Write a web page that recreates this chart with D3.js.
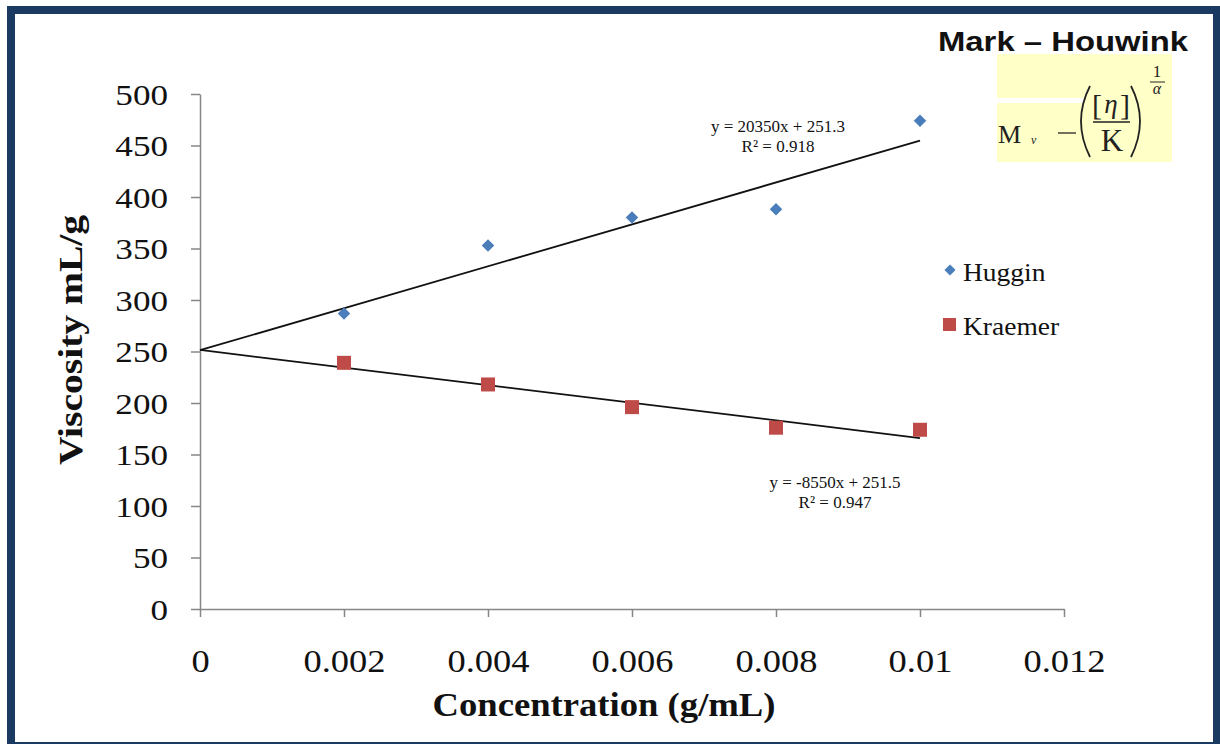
<!DOCTYPE html>
<html>
<head>
<meta charset="utf-8">
<script src="https://cdn.jsdelivr.net/npm/d3@7"></script>
<style>
  html, body { margin: 0; padding: 0; background: #fff; }
  svg { display: block; }
</style>
</head>
<body>
<svg id="chart" width="1220" height="744"></svg>
<script>
// concentrations (g/mL)
const conc = [0.002, 0.004, 0.006, 0.008, 0.010];
const huggin = [287, 353, 380, 388, 474];
const kraemer = [239, 218, 196, 176, 174];

// trendlines as printed on the chart
const fits = [
  { name: "Huggin", slope: 20350, intercept: 251.3, eq: "y = 20350x + 251.3", r2: "R² = 0.918" },
  { name: "Kraemer", slope: -8550, intercept: 251.5, eq: "y = -8550x + 251.5", r2: "R² = 0.947" },
];
const fitRange = [0, 0.01];

const xTicks = [0, 0.002, 0.004, 0.006, 0.008, 0.01, 0.012];
const yTicks = [0, 50, 100, 150, 200, 250, 300, 350, 400, 450, 500];

const serif = "'Liberation Serif', 'Times New Roman', serif";
const sans = "'Liberation Sans', Arial, sans-serif";
const axisGray = "#868686";

// the original picture is a little wider than tall, stretch text to match
function stretch(sel, k) {
  sel.each(function () {
    const w = this.getComputedTextLength();
    d3.select(this).attr("textLength", w * k).attr("lengthAdjust", "spacingAndGlyphs");
  });
}

const svg = d3.select("#chart");

const x = d3.scaleLinear().domain([0, 0.012]).range([200, 1064]);
const y = d3.scaleLinear().domain([0, 500]).range([609, 94]);

// x axis
const xAxis = svg.append("g").attr("transform", `translate(0,${y(0)})`)
  .call(d3.axisBottom(x).tickValues(xTicks).tickSize(8).tickSizeOuter(0)
    .tickFormat((d) => d === 0 ? "0" : String(+d.toFixed(3))));
xAxis.select(".domain").attr("stroke", axisGray).attr("stroke-width", 1.5);
xAxis.selectAll(".tick line").attr("stroke", axisGray).attr("stroke-width", 1.5);
xAxis.selectAll(".tick text").attr("font-family", serif).attr("font-size", 32)
  .attr("fill", "#111").attr("dy", 0).attr("y", 63).call(stretch, 1.14);

// y axis
const yAxis = svg.append("g").attr("transform", `translate(${x(0)},0)`)
  .call(d3.axisLeft(y).tickValues(yTicks).tickSize(9).tickSizeOuter(0));
yAxis.select(".domain").attr("stroke", axisGray).attr("stroke-width", 1.5);
yAxis.selectAll(".tick line").attr("stroke", axisGray).attr("stroke-width", 1.5);
yAxis.selectAll(".tick text").attr("font-family", serif).attr("font-size", 30)
  .attr("fill", "#111").attr("x", -32).attr("dy", "0.34em").call(stretch, 1.17);

// axis titles
svg.append("text").attr("x", 604).attr("y", 716).attr("text-anchor", "middle")
  .attr("font-family", serif).attr("font-weight", "bold").attr("font-size", 34)
  .attr("fill", "#111").attr("textLength", 343).attr("lengthAdjust", "spacingAndGlyphs")
  .text("Concentration (g/mL)");
svg.append("text").attr("transform", "translate(82,340) rotate(-90)").attr("text-anchor", "middle")
  .attr("font-family", serif).attr("font-weight", "bold").attr("font-size", 33)
  .attr("fill", "#111").attr("textLength", 250).attr("lengthAdjust", "spacingAndGlyphs")
  .text("Viscosity mL/g");

// trendlines
const line = d3.line().x((d) => x(d[0])).y((d) => y(d[1]));
svg.selectAll("path.fit").data(fits).join("path").attr("class", "fit")
  .attr("fill", "none").attr("stroke", "#111").attr("stroke-width", 1.8)
  .attr("d", (f) => line(fitRange.map((c) => [c, f.slope * c + f.intercept])));

// points
svg.selectAll("path.huggin").data(conc).join("path").attr("class", "huggin")
  .attr("transform", (d, i) => `translate(${x(d)},${y(huggin[i])})`)
  .attr("d", d3.symbol(d3.symbolDiamond2, 100)).attr("fill", "#4a7ebb");
svg.selectAll("rect.kraemer").data(conc).join("rect").attr("class", "kraemer")
  .attr("x", (d) => x(d) - 7).attr("y", (d, i) => y(kraemer[i]) - 7)
  .attr("width", 14).attr("height", 14).attr("fill", "#be4b48");

// equation labels
const eqPos = [[778, 132], [835, 488]];
fits.forEach((f, i) => {
  const g = svg.append("g").attr("font-family", serif).attr("font-size", 17).attr("fill", "#111")
    .attr("text-anchor", "middle");
  g.append("text").attr("x", eqPos[i][0]).attr("y", eqPos[i][1]).text(f.eq).call(stretch, 1.0);
  g.append("text").attr("x", eqPos[i][0]).attr("y", eqPos[i][1] + 20).text(f.r2);
});

// legend
const legend = svg.append("g").attr("font-family", serif).attr("font-size", 25).attr("fill", "#111");
legend.append("path").attr("transform", "translate(950,270)")
  .attr("d", d3.symbol(d3.symbolDiamond2, 80)).attr("fill", "#4a7ebb");
legend.append("text").attr("x", 963).attr("y", 281).text("Huggin").call(stretch, 1.1);
legend.append("rect").attr("x", 943).attr("y", 318).attr("width", 13).attr("height", 13).attr("fill", "#be4b48");
legend.append("text").attr("x", 963).attr("y", 335).text("Kraemer").call(stretch, 1.1);

// Mark–Houwink equation box
const mh = svg.append("g");
mh.append("text").attr("x", 938).attr("y", 51).attr("font-family", sans).attr("font-weight", "bold")
  .attr("font-size", 27).attr("textLength", 250).attr("lengthAdjust", "spacingAndGlyphs")
  .attr("fill", "#111").text("Mark – Houwink");
mh.append("rect").attr("x", 997).attr("y", 54).attr("width", 175).attr("height", 108).attr("fill", "#ffffc8");
mh.append("rect").attr("x", 997).attr("y", 98).attr("width", 86).attr("height", 5).attr("fill", "#fff");
const ink = "#222";
const ft = mh.append("g").attr("font-family", serif).attr("fill", ink);
ft.append("text").attr("x", 998).attr("y", 143).attr("font-size", 26).text("M");
ft.append("text").attr("x", 1031).attr("y", 144).attr("font-size", 12).attr("font-style", "italic").text("v");
ft.append("line").attr("x1", 1058).attr("x2", 1076).attr("y1", 133).attr("y2", 133).attr("stroke", ink).attr("stroke-width", 1.3);
// parentheses
ft.append("path").attr("d", "M1090,86 Q1072,121 1090,157").attr("fill", "none").attr("stroke", ink).attr("stroke-width", 1.8);
ft.append("path").attr("d", "M1131,86 Q1149,121 1131,157").attr("fill", "none").attr("stroke", ink).attr("stroke-width", 1.8);
ft.append("text").attr("x", 1097).attr("y", 115).attr("font-size", 30).attr("text-anchor", "middle").text("[");
ft.append("text").attr("x", 1111).attr("y", 113).attr("font-size", 27).attr("font-style", "italic").attr("text-anchor", "middle").text("η");
ft.append("text").attr("x", 1125).attr("y", 115).attr("font-size", 30).attr("text-anchor", "middle").text("]");
ft.append("line").attr("x1", 1093).attr("x2", 1130).attr("y1", 122).attr("y2", 122).attr("stroke", ink).attr("stroke-width", 1.3);
ft.append("text").attr("x", 1112).attr("y", 151).attr("font-size", 31).attr("text-anchor", "middle").text("K");
ft.append("text").attr("x", 1157).attr("y", 77).attr("font-size", 17).attr("text-anchor", "middle").text("1");
ft.append("line").attr("x1", 1150).attr("x2", 1165).attr("y1", 82).attr("y2", 82).attr("stroke", ink).attr("stroke-width", 1);
ft.append("text").attr("x", 1157).attr("y", 94).attr("font-size", 16).attr("font-style", "italic").attr("text-anchor", "middle").text("α");

// outer frame
svg.append("rect").attr("x", 11).attr("y", 10).attr("width", 1206).attr("height", 736)
  .attr("fill", "none").attr("stroke", "#1b3a62").attr("stroke-width", 8);
</script>
</body>
</html>
